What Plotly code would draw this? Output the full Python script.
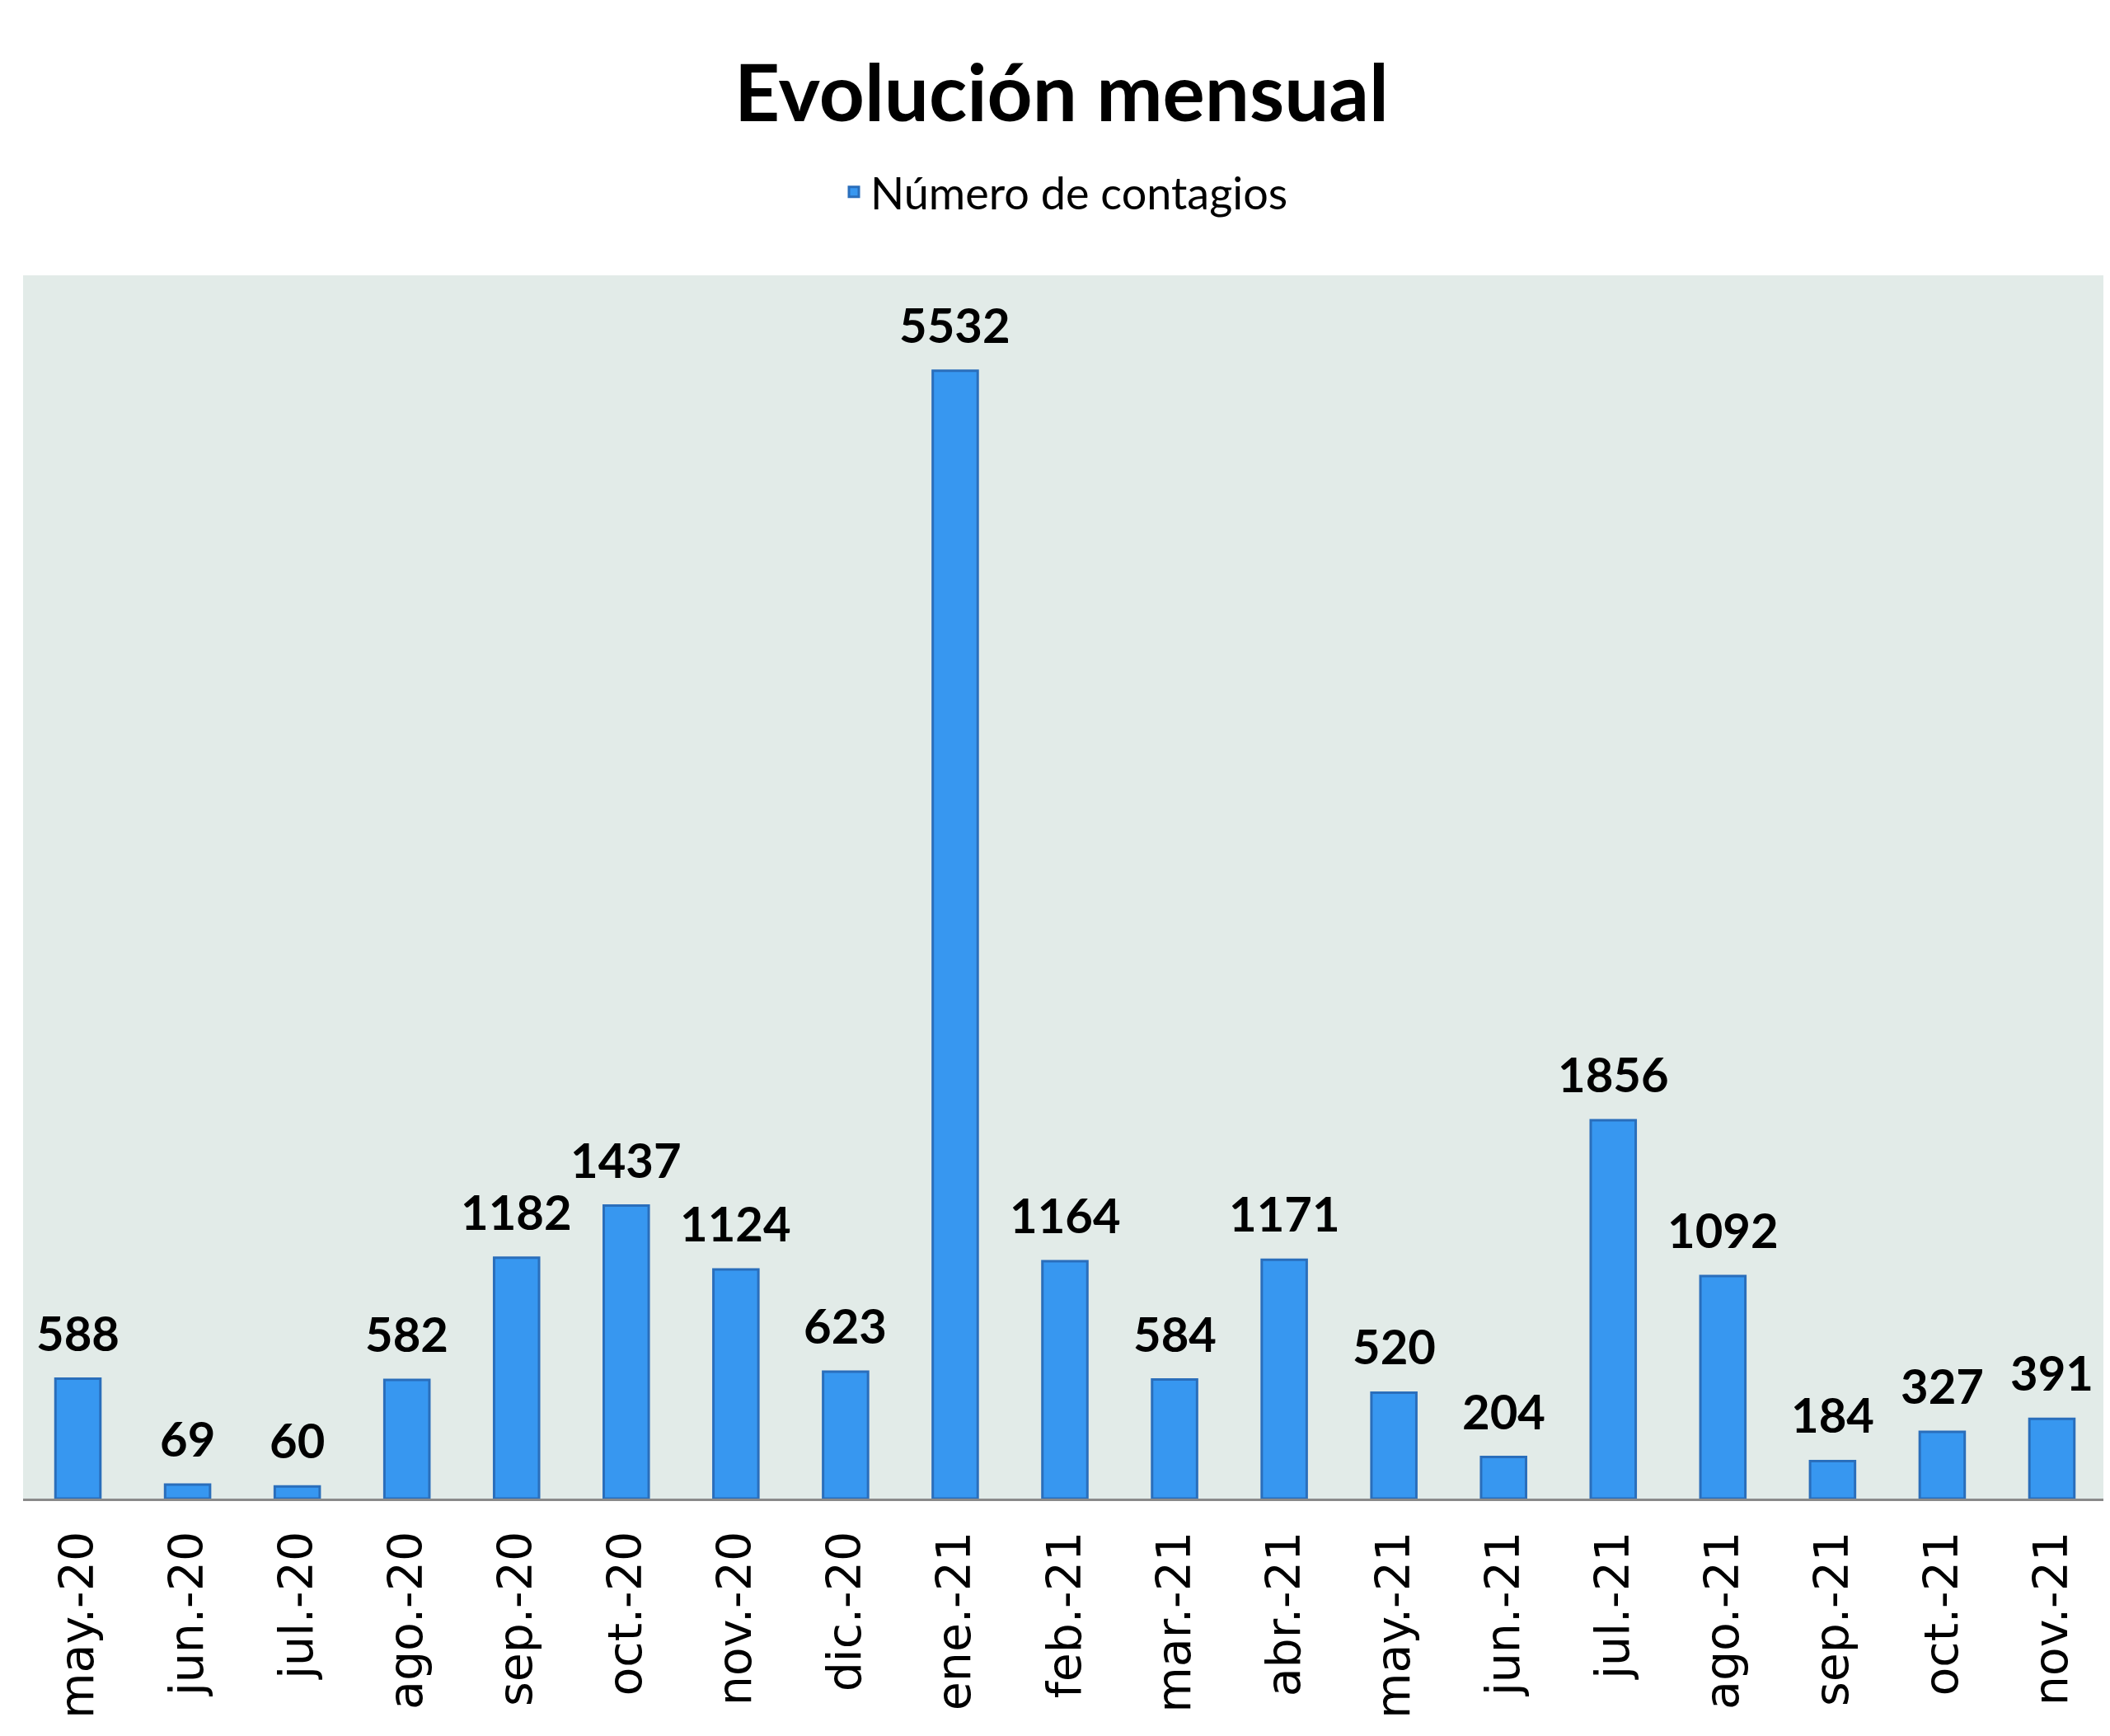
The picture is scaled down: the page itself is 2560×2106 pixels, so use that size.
import plotly.graph_objects as go

meses = ["may.-20", "jun.-20", "jul.-20", "ago.-20", "sep.-20", "oct.-20", "nov.-20",
         "dic.-20", "ene.-21", "feb.-21", "mar.-21", "abr.-21", "may.-21", "jun.-21",
         "jul.-21", "ago.-21", "sep.-21", "oct.-21", "nov.-21"]
contagios = [588, 69, 60, 582, 1182, 1437, 1124, 623, 5532, 1164, 584, 1171, 520, 204,
             1856, 1092, 184, 327, 391]

fig = go.Figure()

fig.add_trace(go.Bar(x=meses, y=contagios, name="Número de contagios",
                     marker=dict(color="#3797f0", line=dict(color="#2a6ebb", width=3))))

# etiquetas de valor encima de cada barra
for m, v in zip(meses, contagios):
    fig.add_annotation(x=m, y=v, text=f"<b>{v}</b>", showarrow=False, yanchor="bottom",
                       yshift=20, font=dict(family="Lato", size=58, color="black"))

fig.update_layout(
    width=2560, height=2106,
    margin=dict(l=20, r=12, t=326, b=296),
    paper_bgcolor="white", plot_bgcolor="#e2ebe8",
    bargap=0.59,
    showlegend=True,
    title=dict(text="<b>Evolución mensual</b>", x=0.5, xanchor="center", y=0.95, yanchor="middle",
               font=dict(family="Lato", size=96, color="black")),
    legend=dict(orientation="h", x=0.5, xanchor="center", y=1.068, yanchor="middle",
                font=dict(family="Lato", size=54, color="black")),
    xaxis=dict(tickangle=-90, tickfont=dict(family="DejaVu Sans", size=57, color="black"),
               showline=True, linecolor="#8a8a8a", linewidth=3, ticks="", ticklabelstandoff=14),
    yaxis=dict(range=[0, 6000], visible=False, showgrid=False),
)

fig.write_html("out.html")
